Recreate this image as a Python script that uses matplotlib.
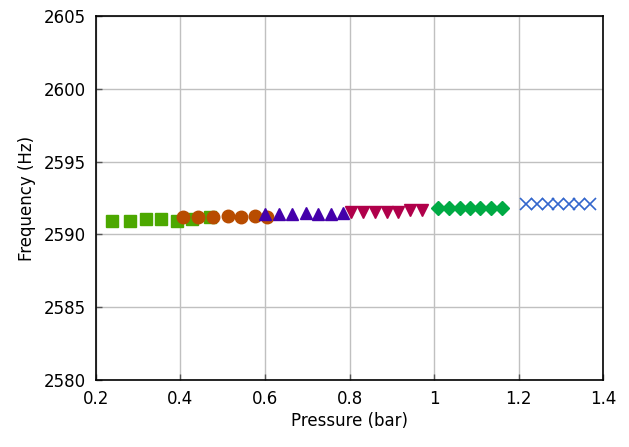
import matplotlib
matplotlib.use("Agg")
import matplotlib.pyplot as plt

# ____________________ data ____________________ #

sq_p = [0.237, 0.280, 0.318, 0.355, 0.391, 0.427, 0.470]
sq_f = [2590.94, 2590.94, 2591.06, 2591.06, 2590.94, 2591.05, 2591.17]

ci_p = [0.407, 0.442, 0.478, 0.512, 0.543, 0.576, 0.604]
ci_f = [2591.17, 2591.17, 2591.17, 2591.28, 2591.17, 2591.28, 2591.22]

tu_p = [0.600, 0.634, 0.665, 0.697, 0.726, 0.756, 0.784]
tu_f = [2591.40, 2591.40, 2591.40, 2591.50, 2591.40, 2591.40, 2591.45]

td_p = [0.803, 0.833, 0.860, 0.888, 0.914, 0.943, 0.971]
td_f = [2591.56, 2591.56, 2591.56, 2591.56, 2591.56, 2591.67, 2591.67]

di_p = [1.010, 1.036, 1.062, 1.085, 1.110, 1.135, 1.160]
di_f = [2591.79, 2591.79, 2591.79, 2591.79, 2591.79, 2591.79, 2591.79]

x_p = [1.218, 1.243, 1.269, 1.294, 1.320, 1.344, 1.368]
x_f = [2592.09, 2592.09, 2592.09, 2592.09, 2592.09, 2592.09, 2592.09]

# ____________________ plot ____________________ #

plt.rcParams['font.family'] = ['DejaVu Sans']

fig = plt.figure(figsize=(6.29, 4.47), dpi=100)
ax = fig.add_axes([0.1526, 0.1499, 0.8061, 0.8143])

ax.plot(sq_p, sq_f, 's', color='#4ca800', markersize=9, linestyle='none')
ax.plot(ci_p, ci_f, 'o', color='#b84c00', markersize=9, linestyle='none')
ax.plot(tu_p, tu_f, '^', color='#4400aa', markersize=9, linestyle='none')
ax.plot(td_p, td_f, 'v', color='#b0004a', markersize=9, linestyle='none')
ax.plot(di_p, di_f, 'D', color='#00aa44', markersize=7, linestyle='none')
ax.plot(x_p, x_f, 'x', color='#3366cc', markersize=9, markeredgewidth=1.2, linestyle='none')

ax.set_xlim(0.2, 1.4)
ax.set_ylim(2580, 2605)
ax.set_xticks([0.2, 0.4, 0.6, 0.8, 1.0, 1.2, 1.4])
ax.set_xticklabels(['0.2', '0.4', '0.6', '0.8', '1', '1.2', '1.4'])
ax.set_yticks(range(2580, 2606, 5))

ax.grid(True, color='#c0c0c0', linewidth=1.0)
ax.set_axisbelow(True)
ax.tick_params(direction='in', length=4, width=1, color='#555555', labelsize=12, pad=7)
for s in ax.spines.values():
    s.set_linewidth(1.2)

ax.set_xlabel('Pressure (bar)', fontsize=12, labelpad=3)
ax.set_ylabel('Frequency (Hz)', fontsize=12, labelpad=6)

fig.savefig('out.png', dpi=100)
